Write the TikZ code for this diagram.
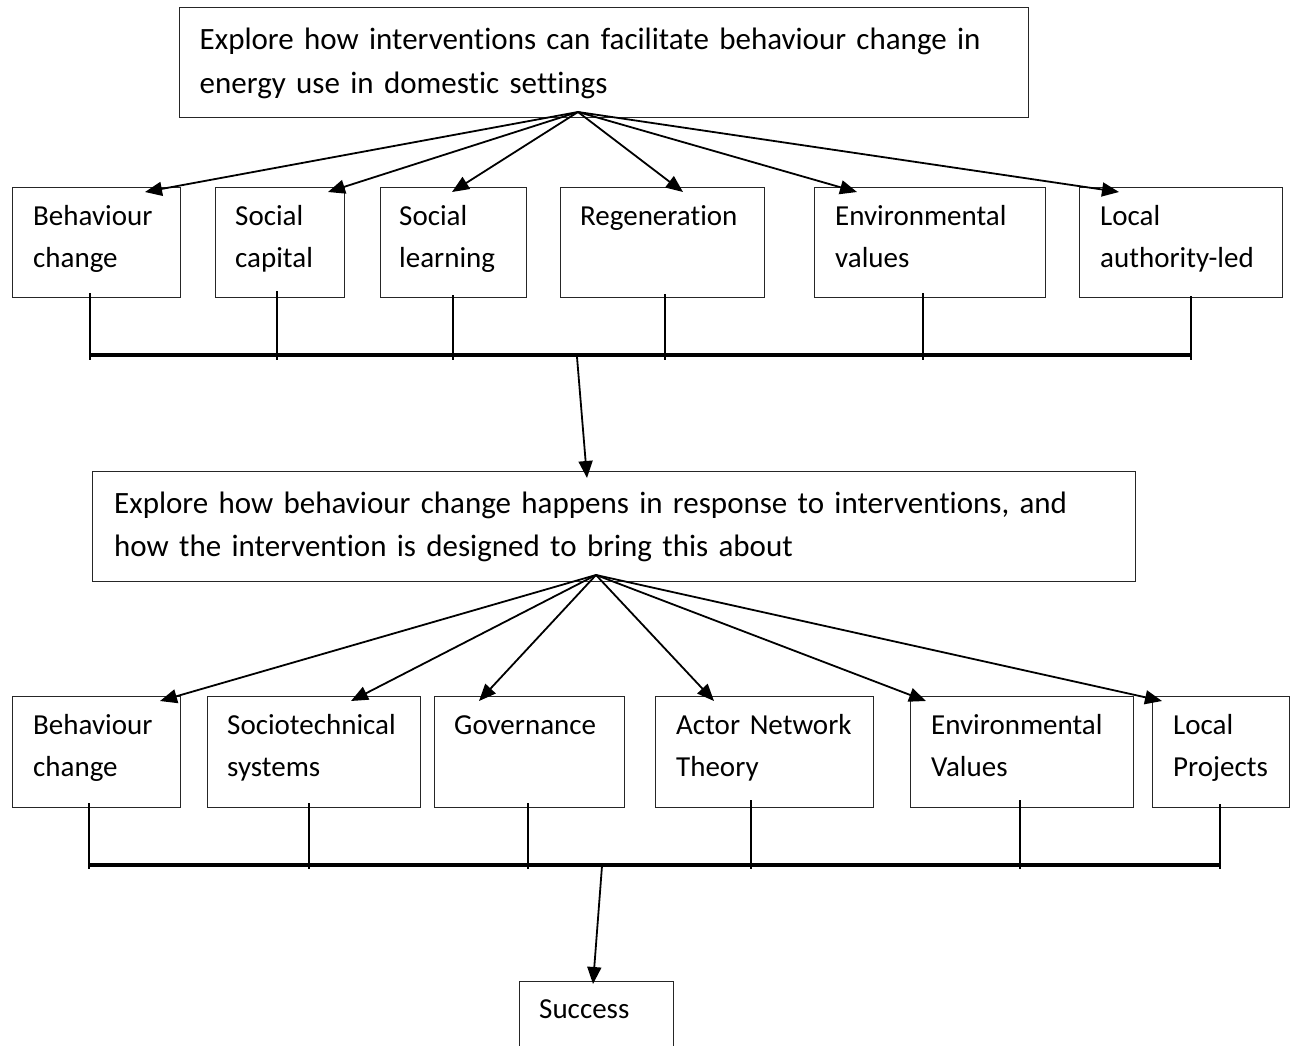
\documentclass[tikz,border=0pt]{standalone}
\usepackage{fontspec}
\setmainfont{Carlito}[RawFeature=-liga]
\usetikzlibrary{arrows.meta,calc}

\begin{document}
\begin{tikzpicture}[x=1pt,y=-1pt,
  box/.style={draw=black!85, line width=1.3pt, anchor=north west, inner sep=0pt, minimum height=110},
  txt/.style={anchor=base west, inner sep=0pt, align=left, text width=1000pt,
              font=\fontsize{29}{41.5}\selectfont},
  bigtxt/.style={txt, font=\fontsize{31}{43.5}\selectfont},
  arr/.style={line width=1.8pt, -{Triangle[length=17pt,width=14pt]}},
  stub/.style={line width=2.6pt},
  bus/.style={line width=3.4pt},
]
\useasboundingbox (0,0) rectangle (1298,1046);
\clip (0,0) rectangle (1298,1046);

% ---------- top question ----------
\node[box, minimum width=849] (top) at (178.5,7) {};
\node[bigtxt] (topT) at ($(top.north west)+(21,43)$)
  {Explore how interventions can facilitate behaviour change in\\energy use in domestic settings};
\coordinate (hub1) at (578,112);

% ---------- first row of themes ----------
\node[box, minimum width=168] (r1a) at (12,187) {};
\node[box, minimum width=129] (r1b) at (215,187) {};
\node[box, minimum width=146] (r1c) at (380,187) {};
\node[box, minimum width=204] (r1d) at (560,187) {};
\node[box, minimum width=231] (r1e) at (814,187) {};
\node[box, minimum width=203] (r1f) at (1079,187) {};

\node[txt] (r1aT) at ($(r1a.north west)+(21,38.5)$) {Behaviour\\change};
\node[txt] (r1bT) at ($(r1b.north west)+(20,38.5)$) {Social\\capital};
\node[txt] (r1cT) at ($(r1c.north west)+(19,38.5)$) {Social\\learning};
\node[txt] (r1dT) at ($(r1d.north west)+(20,38.5)$) {Regeneration};
\node[txt] (r1eT) at ($(r1e.north west)+(21,38.5)$) {Environmental\\values};
\node[txt] (r1fT) at ($(r1f.north west)+(21,38.5)$) {Local\\authority-led};

\draw[arr] (hub1) -- ([shift={(133,5)}]r1a.north west);
\draw[arr] (hub1) -- ([shift={(113,5)}]r1b.north west);
\draw[arr] (hub1) -- ([shift={(72,5)}]r1c.north west);
\draw[arr] (hub1) -- ([shift={(123,5)}]r1d.north west);
\draw[arr] (hub1) -- ([shift={(43,5)}]r1e.north west);
\draw[arr] (hub1) -- ([shift={(40,5)}]r1f.north west);

% links from the first row down to the joining bar
\coordinate (bus1L) at (90,355);
\coordinate (bus1R) at (1191,355);
\draw[stub] ([shift={(78,-5)}]r1a.south west) -- ++(0,67);
\draw[stub] ([shift={(62,-7)}]r1b.south west) -- ++(0,69);
\draw[stub] ([shift={(73,-3)}]r1c.south west) -- ++(0,65);
\draw[stub] ([shift={(105,-4)}]r1d.south west) -- ++(0,66);
\draw[stub] ([shift={(109,-5)}]r1e.south west) -- ++(0,67);
\draw[stub] ([shift={(112,-2)}]r1f.south west) -- ++(0,64);
\draw[bus] (bus1L) -- (bus1R);

% ---------- second question ----------
\node[box, minimum width=1043] (mid) at (92,471) {};
\node[bigtxt] (midT) at ($(mid.north west)+(22,42)$)
  {Explore how behaviour change happens in response to interventions, and\\how the intervention is designed to bring this about};
\coordinate (bus1out) at (577,357);
\draw[arr] (bus1out) -- ([shift={(495,7)}]mid.north west);
\coordinate (hub2) at (596,575);

% ---------- second row of themes ----------
\node[box, minimum width=168, minimum height=111] (r2a) at (12,696) {};
\node[box, minimum width=213, minimum height=111] (r2b) at (207,696) {};
\node[box, minimum width=190, minimum height=111] (r2c) at (434,696) {};
\node[box, minimum width=218, minimum height=111] (r2d) at (655,696) {};
\node[box, minimum width=223, minimum height=111] (r2e) at (910,696) {};
\node[box, minimum width=137, minimum height=111] (r2f) at (1152,696) {};

\node[txt] (r2aT) at ($(r2a.north west)+(21,38.5)$) {Behaviour\\change};
\node[txt] (r2bT) at ($(r2b.north west)+(20,38.5)$) {Sociotechnical\\systems};
\node[txt] (r2cT) at ($(r2c.north west)+(20,38.5)$) {Governance};
\node[txt] (r2dT) at ($(r2d.north west)+(21,38.5)$) {Actor Network\\Theory};
\node[txt] (r2eT) at ($(r2e.north west)+(21,38.5)$) {Environmental\\Values};
\node[txt] (r2fT) at ($(r2f.north west)+(21,38.5)$) {Local\\Projects};

\draw[arr] (hub2) -- ([shift={(148,5)}]r2a.north west);
\draw[arr] (hub2) -- ([shift={(144,5)}]r2b.north west);
\draw[arr] (hub2) -- ([shift={(45,5)}]r2c.north west);
\draw[arr] (hub2) -- ([shift={(59,5)}]r2d.north west);
\draw[arr] (hub2) -- ([shift={(16,5)}]r2e.north west);
\draw[arr] (hub2) -- ([shift={(10,5)}]r2f.north west);

% links from the second row down to the joining bar
\coordinate (bus2L) at (89,865);
\coordinate (bus2R) at (1220,865);
\draw[stub] ([shift={(77,-5)}]r2a.south west) -- ++(0,66);
\draw[stub] ([shift={(102,-5)}]r2b.south west) -- ++(0,66);
\draw[stub] ([shift={(94,-5)}]r2c.south west) -- ++(0,66);
\draw[stub] ([shift={(96,-8)}]r2d.south west) -- ++(0,69);
\draw[stub] ([shift={(110,-8)}]r2e.south west) -- ++(0,69);
\draw[stub] ([shift={(68,-4)}]r2f.south west) -- ++(0,65);
\draw[bus] (bus2L) -- (bus2R);

% ---------- outcome ----------
\node[box, minimum width=154, minimum height=90] (succ) at (519,981) {};
\node[txt] (succT) at ($(succ.north west)+(20,37.5)$) {Success};
\coordinate (bus2out) at (602,866);
\draw[arr] (bus2out) -- ([shift={(74,3)}]succ.north west);
\end{tikzpicture}
\end{document}
